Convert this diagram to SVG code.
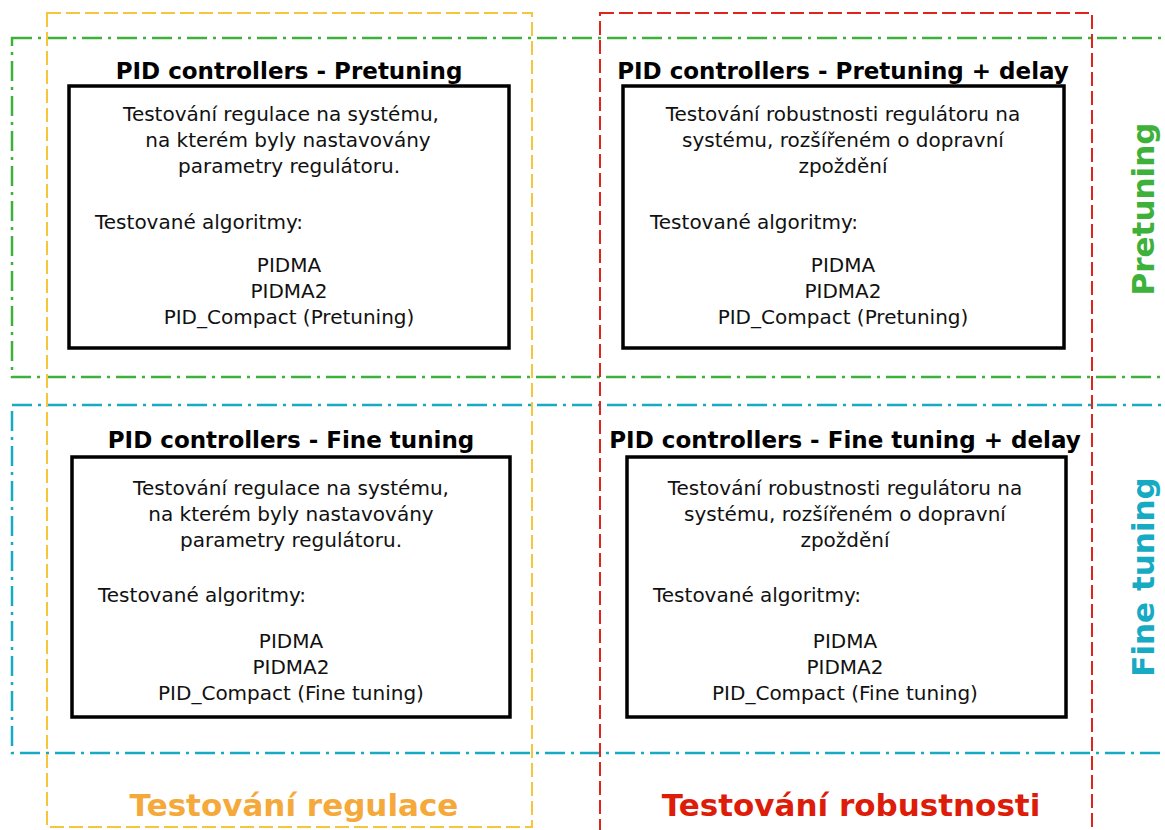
<svg xmlns="http://www.w3.org/2000/svg" width="1165" height="830" viewBox="0 0 1165 830">
  <style>
    .frame-y { fill: none; stroke: #f5c53c; stroke-width: 2; stroke-dasharray: 14 5; }
    .frame-r { fill: none; stroke: #e0231b; stroke-width: 2; stroke-dasharray: 14 5; }
    .frame-g { fill: none; stroke: #3db13a; stroke-width: 2.5; stroke-dasharray: 20 6 3 6; }
    .frame-c { fill: none; stroke: #17aac3; stroke-width: 2.5; stroke-dasharray: 20 6 3 6; }
    .box { fill: #ffffff; stroke: #000000; stroke-width: 3.5; }
    .title { font-family: "DejaVu Sans", sans-serif; font-weight: bold; font-size: 23px; fill: #000; text-anchor: middle; }
    .body { font-family: "DejaVu Sans", sans-serif; font-size: 20px; fill: #111; }
    .mid { text-anchor: middle; }
    .big { font-family: "DejaVu Sans", sans-serif; font-weight: bold; font-size: 31px; text-anchor: middle; }
  </style>

  <rect width="1165" height="830" fill="#ffffff"/>

  <!-- group frames -->
  <g id="frames">
    <rect class="frame-g" x="12" y="38" width="1170" height="339"/>
    <rect class="frame-c" x="12" y="405" width="1170" height="348"/>
    <rect class="frame-y" x="47" y="13" width="485" height="814"/>
    <rect class="frame-r" x="600" y="13" width="492" height="830"/>
  </g>

  <g id="connectors"></g>

  <g id="node-pretuning">
    <text class="title" x="289" y="79">PID controllers - Pretuning</text>
    <rect class="box" x="69" y="86" width="440" height="262"/>
    <text class="body mid" x="281" y="121">Testování regulace na systému,</text>
    <text class="body mid" x="288" y="147">na kterém byly nastavovány</text>
    <text class="body mid" x="289" y="173">parametry regulátoru.</text>
    <text class="body" x="95" y="229">Testované algoritmy:</text>
    <text class="body mid" x="289" y="272">PIDMA</text>
    <text class="body mid" x="289" y="298">PIDMA2</text>
    <text class="body mid" x="289" y="324">PID_Compact (Pretuning)</text>
  </g>

  <g id="node-pretuning-delay">
    <text class="title" x="843" y="79">PID controllers - Pretuning + delay</text>
    <rect class="box" x="623" y="86" width="441" height="262"/>
    <text class="body mid" x="843" y="121">Testování robustnosti regulátoru na</text>
    <text class="body mid" x="843" y="147">systému, rozšířeném o dopravní</text>
    <text class="body mid" x="843" y="173">zpoždění</text>
    <text class="body" x="650" y="229">Testované algoritmy:</text>
    <text class="body mid" x="843" y="272">PIDMA</text>
    <text class="body mid" x="843" y="298">PIDMA2</text>
    <text class="body mid" x="843" y="324">PID_Compact (Pretuning)</text>
  </g>

  <g id="node-finetuning">
    <text class="title" x="291" y="448">PID controllers - Fine tuning</text>
    <rect class="box" x="72" y="457" width="438" height="260"/>
    <text class="body mid" x="291" y="495">Testování regulace na systému,</text>
    <text class="body mid" x="291" y="521">na kterém byly nastavovány</text>
    <text class="body mid" x="291" y="547">parametry regulátoru.</text>
    <text class="body" x="98" y="602">Testované algoritmy:</text>
    <text class="body mid" x="291" y="648">PIDMA</text>
    <text class="body mid" x="291" y="674">PIDMA2</text>
    <text class="body mid" x="291" y="700">PID_Compact (Fine tuning)</text>
  </g>

  <g id="node-finetuning-delay">
    <text class="title" x="845" y="448">PID controllers - Fine tuning + delay</text>
    <rect class="box" x="627" y="457" width="439" height="260"/>
    <text class="body mid" x="845" y="495">Testování robustnosti regulátoru na</text>
    <text class="body mid" x="845" y="521">systému, rozšířeném o dopravní</text>
    <text class="body mid" x="845" y="547">zpoždění</text>
    <text class="body" x="653" y="602">Testované algoritmy:</text>
    <text class="body mid" x="845" y="648">PIDMA</text>
    <text class="body mid" x="845" y="674">PIDMA2</text>
    <text class="body mid" x="845" y="700">PID_Compact (Fine tuning)</text>
  </g>

  <!-- frame labels -->
  <g id="labels">
    <text class="big" x="294" y="816" fill="#f4a93a">Testování regulace</text>
    <text class="big" x="851" y="816" fill="#dd1c0a">Testování robustnosti</text>
    <text class="big" transform="translate(1154 209) rotate(-90)" fill="#3db13a">Pretuning</text>
    <text class="big" transform="translate(1154 577) rotate(-90)" fill="#17aac3">Fine tuning</text>
  </g>
</svg>
